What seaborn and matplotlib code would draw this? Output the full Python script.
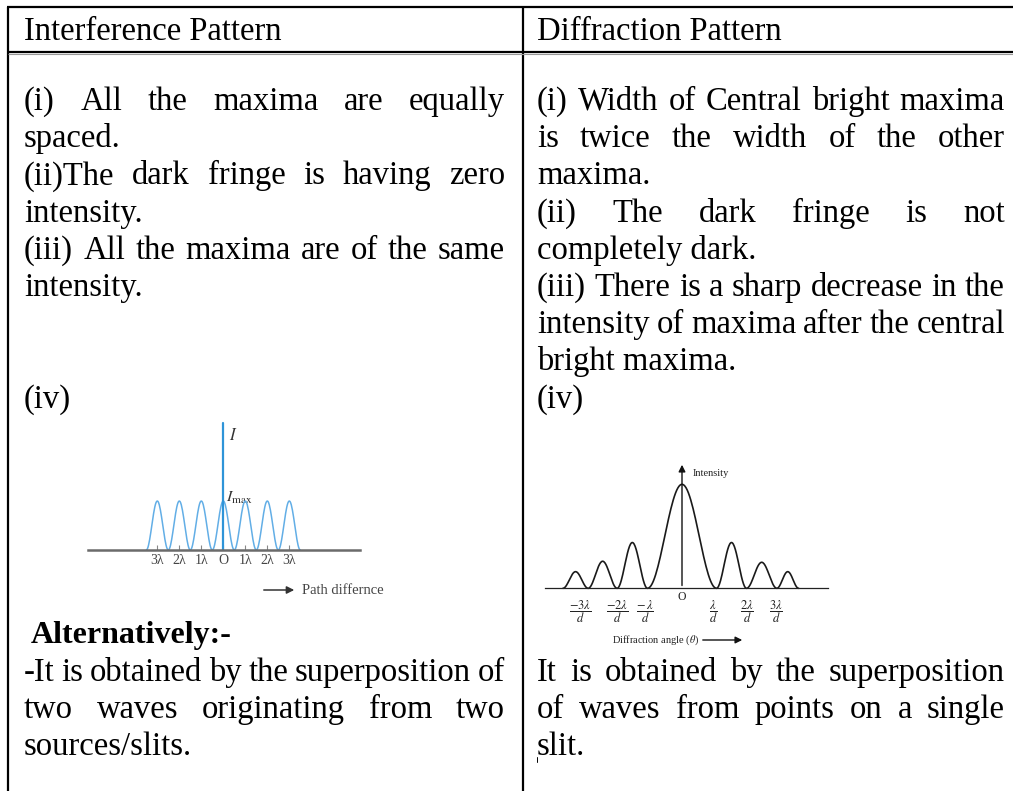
import numpy as np
import pandas as pd
import matplotlib
matplotlib.use('Agg')
import matplotlib.pyplot as plt
import seaborn as sns

# Tabla comparativa: interferencia vs difraccion

header_left = 'Interference Pattern'
header_right = 'Diffraction Pattern'

left_body = ['(i) All the maxima are equally', 'spaced.',
             '(ii)The dark fringe is having zero', 'intensity.',
             '(iii) All the maxima are of the same', 'intensity.']
left_just = [True, False, True, False, True, False]

right_body = ['(i) Width of Central bright maxima', 'is twice the width of the other',
              'maxima.', '(ii) The dark fringe is not', 'completely dark.',
              '(iii) There is a sharp decrease in the',
              'intensity of maxima after the central', 'bright maxima.', '(iv)']
right_just = [True, True, False, True, False, True, True, False, False]

left_alt = 'Alternatively:-'
left_foot = ['-It is obtained by the superposition of',
             'two waves originating from two', 'sources/slits.']
left_foot_just = [True, True, False]
right_foot = ['It is obtained by the superposition',
              'of waves from points on a single', 'slit.']
right_foot_just = [True, True, False]

# interferencia: orden de franja y maximo relativo
fringe_order = [-3, -2, -1, 0, 1, 2, 3]
fringe_peak = [1, 1, 1, 1, 1, 1, 1]
fringe_labels = ['3λ', '2λ', '1λ', 'O', '1λ', '2λ', '3λ']

# difraccion: ceros de los lobulos (en lambda/d) y altura relativa de cada lobulo
lobe_zeros = [-3.45, -2.72, -1.88, -1.0, 1.0, 1.87, 2.75, 3.38]
lobe_peaks = [0.16, 0.26, 0.44, 1.0, 0.44, 0.25, 0.16]
diff_tick_pos = [-2.96, -1.88, -1.07, 0.9, 1.88, 2.72]
diff_tick_labels = [r'$\dfrac{-3\lambda}{d}$', r'$\dfrac{-2\lambda}{d}$', r'$\dfrac{-\,\lambda}{d}$',
                    r'$\dfrac{\lambda}{d}$', r'$\dfrac{2\lambda}{d}$', r'$\dfrac{3\lambda}{d}$']

sns.set_theme(style='white')
plt.rcParams['font.family'] = ['Liberation Serif', 'DejaVu Serif']
plt.rcParams['mathtext.fontset'] = 'stix'

W, H = 1013, 791
FS = 23.5
fig = plt.figure(figsize=(W / 100, H / 100), dpi=100)
ax = fig.add_axes([0, 0, 1, 1])
ax.set_xlim(0, W)
ax.set_ylim(H, 0)
ax.axis('off')
renderer = fig.canvas.get_renderer()


def put_line(text, x0, x1, y, justify, **kw):
    words = text.split(' ')
    if not justify or len(words) == 1:
        ax.text(x0, y, text, ha='left', va='baseline', fontsize=FS, color='black', **kw)
        return
    arts = [ax.text(0, y, w, ha='left', va='baseline', fontsize=FS, color='black', **kw)
            for w in words]
    widths = [a.get_window_extent(renderer).width for a in arts]
    gap = (x1 - x0 - sum(widths)) / (len(words) - 1)
    x = x0
    for a, w in zip(arts, widths):
        a.set_x(x)
        x += w + gap


# lineas de la tabla
ax.plot([7, W], [7, 7], color='black', lw=1.6, solid_capstyle='butt')
ax.plot([8, 8], [7, H], color='black', lw=1.6, solid_capstyle='butt')
ax.plot([523, 523], [7, H], color='black', lw=1.6, solid_capstyle='butt')
ax.plot([8, W], [52, 52], color='black', lw=1.6, solid_capstyle='butt')
ax.plot([8, W], [54, 54], color='#999999', lw=0.8, solid_capstyle='butt')
ax.plot([537, 537], [757, 762], color='black', lw=0.7)

LX0, LX1 = 24, 505
RX0, RX1 = 537, 1005
step = 37.2
base = 10

put_line(header_left, LX0, LX1, 30 + base, False)
put_line(header_right, RX0, RX1, 30 + base, False)

for i, (t, j) in enumerate(zip(left_body, left_just)):
    put_line(t, LX0, LX1, 100 + i * step + base, j)
for i, (t, j) in enumerate(zip(right_body, right_just)):
    put_line(t, RX0, RX1, 100 + i * step + base, j)
put_line('(iv)', LX0, LX1, 100 + 8 * step + base, False)

ax.text(31, 633 + base, left_alt, ha='left', va='baseline', fontsize=FS - 0.5,
        fontweight='bold', color='black')
for i, (t, j) in enumerate(zip(left_foot, left_foot_just)):
    put_line(t, LX0, LX1, 671 + i * step + base, j)
for i, (t, j) in enumerate(zip(right_foot, right_foot_just)):
    put_line(t, RX0, RX1, 671 + i * step + base, j)


def inset(px0, px1, py0, py1):
    a = fig.add_axes([px0 / W, 1 - py1 / H, (px1 - px0) / W, (py1 - py0) / H])
    a.patch.set_alpha(0)
    for s in ['top', 'right', 'left']:
        a.spines[s].set_visible(False)
    a.spines['bottom'].set_position(('data', 0))
    a.set_yticks([])
    return a


# ---- patron de interferencia
cx, ux, by, uy = 223.3, 22.0, 550.0, 49.0
ai = inset(80, 370, 415, 610)
ai.set_xlim((80 - cx) / ux, (370 - cx) / ux)
ai.set_ylim((by - 610) / uy, (by - 415) / uy)
rows = []
for m, p in zip(fringe_order, fringe_peak):
    xs = np.linspace(m - 0.5, m + 0.5, 40)
    rows.append(pd.DataFrame({'x': xs, 'I': p * np.cos(np.pi * (xs - m)) ** 2}))
df_i = pd.concat(rows, ignore_index=True)
sns.lineplot(data=df_i, x='x', y='I', ax=ai, color='#62aee6', lw=1.1,
             sort=False, estimator=None)
ai.spines['bottom'].set_bounds((88 - cx) / ux, (360 - cx) / ux)
ai.spines['bottom'].set_color('#6b6b6b')
ai.spines['bottom'].set_linewidth(1.8)
ai.plot([0, 0], [0, (by - 423) / uy], color='#2e94d8', lw=1.6)
ai.set_xticks(fringe_order, labels=fringe_labels)
ai.tick_params(axis='x', direction='in', length=3.5, width=0.8, color='#888888',
               pad=3.0, labelsize=10, labelcolor='#444444', bottom=True)
ai.set_xlabel('')
ai.set_ylabel('')
ax.text(229, 436, r'$I$', fontsize=12, color='#333333', ha='left', va='center')
ax.text(226, 498, r'$I_{\mathrm{max}}$', fontsize=11.5, color='#333333', ha='left', va='center')
ax.annotate('', xy=(297, 590), xytext=(261, 590),
            arrowprops=dict(arrowstyle='-|>', color='#333333', lw=1.1, mutation_scale=11))
ax.text(302, 590, 'Path differnce', fontsize=10.5, color='#444444', ha='left', va='center')

# ---- patron de difraccion
dx0, du, dy0, dv = 682.0, 34.5, 588.3, 104.0
ad = inset(540, 835, 455, 660)
ad.set_xlim((540 - dx0) / du, (835 - dx0) / du)
ad.set_ylim((dy0 - 660) / dv, (dy0 - 455) / dv)
rows = []
for z0, z1, p in zip(lobe_zeros[:-1], lobe_zeros[1:], lobe_peaks):
    xs = np.linspace(z0, z1, 60)
    rows.append(pd.DataFrame({'x': xs, 'I': p * np.sin(np.pi * (xs - z0) / (z1 - z0)) ** 2}))
df_d = pd.concat(rows, ignore_index=True)
sns.lineplot(data=df_d, x='x', y='I', ax=ad, color='#1a1a1a', lw=1.2,
             sort=False, estimator=None)
ad.spines['bottom'].set_bounds((545 - dx0) / du, (828 - dx0) / du)
ad.spines['bottom'].set_color('#222222')
ad.spines['bottom'].set_linewidth(0.9)
ad.annotate('', xy=(0, (dy0 - 462) / dv), xytext=(0, 0),
            arrowprops=dict(arrowstyle='-|>', color='#111111', lw=1.0, mutation_scale=10))
ad.set_xticks(diff_tick_pos, labels=diff_tick_labels)
ad.tick_params(axis='x', length=0, pad=7, labelsize=9, labelcolor='#222222', bottom=True)
ad.set_xlabel('')
ad.set_ylabel('')
ax.text(682, 597, 'O', fontsize=8.5, color='#222222', ha='center', va='center')
ax.text(693, 474, 'Intensity', fontsize=7.5, color='#222222', ha='left', va='center')
ax.text(612, 640, r'Diffraction angle ($\theta$)', fontsize=7.5, color='#222222',
        ha='left', va='center')
ax.annotate('', xy=(745, 640), xytext=(700, 640),
            arrowprops=dict(arrowstyle='-|>', color='#111111', lw=1.0, mutation_scale=10))

fig.savefig('out.png', dpi=100)
plt.close(fig)
